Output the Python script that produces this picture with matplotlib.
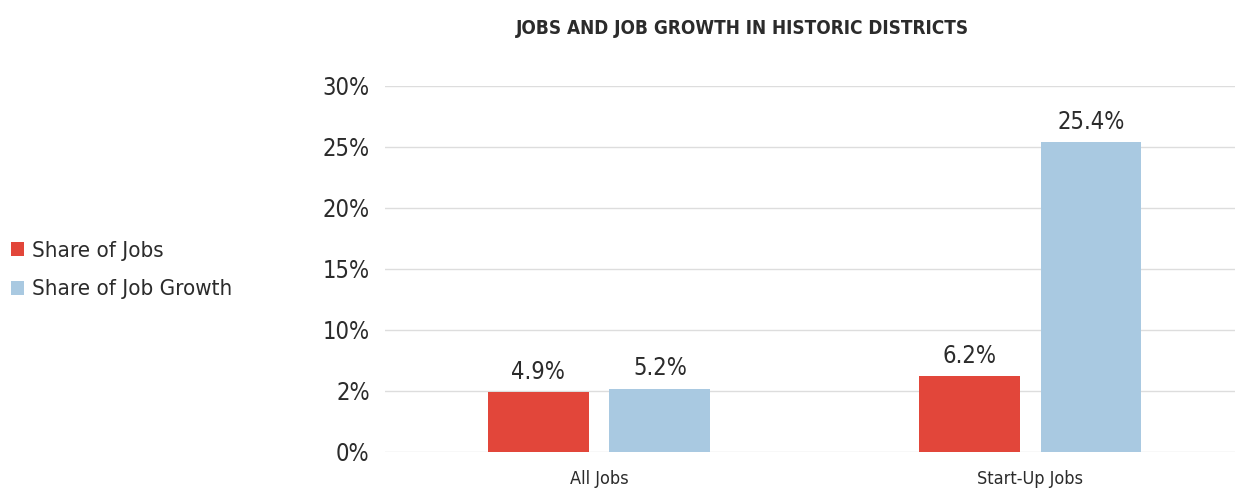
import numpy as np
import matplotlib.pyplot as plt

# data
categories = ['All Jobs', 'Start-Up Jobs']
share_jobs = [4.9, 6.2]
share_growth = [5.2, 25.4]
tick_vals = [0, 5, 10, 15, 20, 25, 30]
tick_labels = ['0%', '2%', '10%', '15%', '20%', '25%', '30%']  # as printed in the source

plt.rcParams['font.family'] = ['Liberation Sans Narrow', 'DejaVu Sans']
plt.rcParams['font.stretch'] = 'condensed'

red = '#E2463A'
blue = '#A9C9E1'
txt = '#2b2b2b'

fig = plt.figure(figsize=(12.36, 4.9), dpi=100)
ax = fig.add_axes([0.3115, 0.0776, 0.688, 0.7469])

x = np.arange(len(categories))
w = 0.234
off = 0.141
b1 = ax.bar(x - off, share_jobs, w, color=red, label='Share of Jobs')
b2 = ax.bar(x + off, share_growth, w, color=blue, label='Share of Job Growth')

for bars, vals in [(b1, share_jobs), (b2, share_growth)]:
    for b, v in zip(bars, vals):
        ax.annotate(f'{v}%', (b.get_x() + b.get_width() / 2, b.get_height()),
                    xytext=(0, 6), textcoords='offset points',
                    ha='center', va='bottom', fontsize=17, color=txt)

ax.set_ylim(0, 30)
ax.set_xlim(-0.4965, 1.476)
ax.set_yticks(tick_vals)
ax.set_yticklabels(tick_labels, fontsize=17, color=txt)
ax.set_xticks(x)
ax.set_xticklabels(categories, fontsize=13, color=txt)
ax.tick_params(length=0)
ax.tick_params(axis='y', pad=11)
ax.tick_params(axis='x', pad=13)
ax.grid(axis='y', color='#dddddd', linewidth=1)
ax.set_axisbelow(True)
for s in ax.spines.values():
    s.set_visible(False)

fig.legend(handles=[b1, b2], loc='center left', bbox_to_anchor=(0.009, 0.449),
           frameon=False, fontsize=16, handlelength=0.6, handleheight=0.6,
           handletextpad=0.35, labelspacing=0.85, labelcolor=txt,
           borderpad=0, borderaxespad=0)

fig.text(0.601, 0.942, 'JOBS AND JOB GROWTH IN HISTORIC DISTRICTS',
         ha='center', va='center', fontsize=13.6, fontweight='bold', color=txt)

fig.savefig('out.png', dpi=100)
